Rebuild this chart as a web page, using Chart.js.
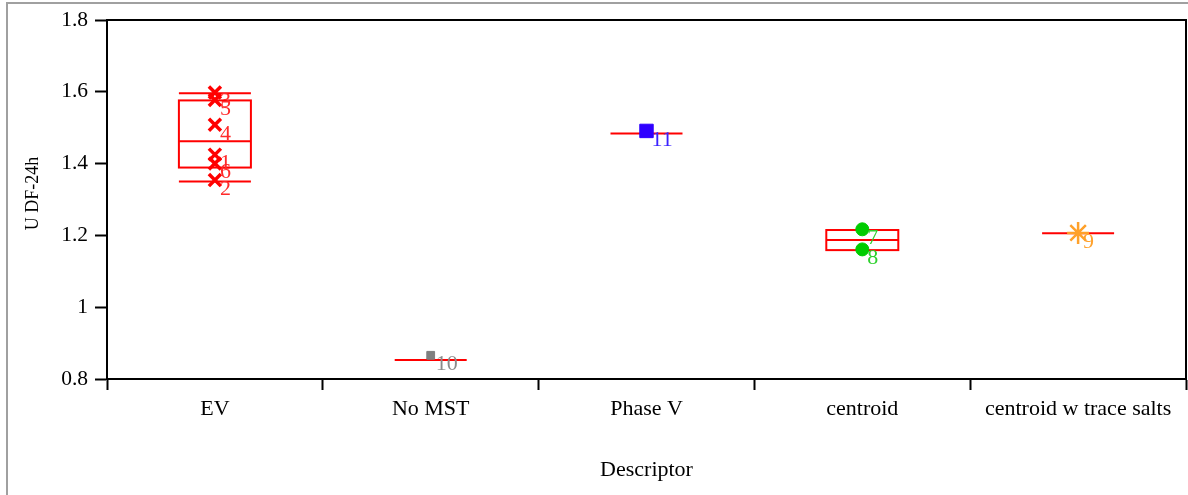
<!DOCTYPE html>
<html>
<head>
<meta charset="utf-8">
<script src="https://cdn.jsdelivr.net/npm/chart.js@4/dist/chart.umd.min.js"></script>
<style>
  html, body { margin: 0; padding: 0; background: #fff; }
  #wrap { width: 1188px; height: 495px; position: relative; }
</style>
</head>
<body>
<div id="wrap"><canvas id="myChart"></canvas></div>
<script>
// categories on the x axis
const categories = ['EV', 'No MST', 'Phase V', 'centroid', 'centroid w trace salts'];
const yTicks = [0.8, 1, 1.2, 1.4, 1.6, 1.8];

// individual runs (label, group, value)
const pointIds = ['1', '2', '3', '4', '5', '6', '7', '8', '9', '10', '11'];
const pointGroups = ['EV', 'EV', 'EV', 'EV', 'EV', 'EV', 'centroid', 'centroid', 'centroid w trace salts', 'No MST', 'Phase V'];
const pointValues = [1.425, 1.354, 1.598, 1.508, 1.577, 1.400, 1.217, 1.161, 1.207, 0.866, 1.491];

// box / quantile lines per category (null = not drawn)
const whiskerLow = [1.350, null, null, null, null];
const boxLow = [1.389, null, null, 1.159, null];
const medians = [1.462, 0.853, 1.484, 1.187, 1.206];
const boxHigh = [1.576, null, null, 1.215, null];
const whiskerHigh = [1.596, null, null, null, null];

const serif = '"Liberation Serif", "Times New Roman", serif';

// marker look per group
const groupStyle = {
    'EV': { style: 'crossRot', color: '#ff0000', label: '#ff2a2a', radius: 8.5, width: 3.5 },
    'No MST': { style: 'rect', color: '#7f7f7f', label: '#8a8a8a', radius: 5.5, width: 1 },
    'Phase V': { style: 'rect', color: '#2f00ff', label: '#3a22ff', radius: 9.5, width: 1 },
    'centroid': { style: 'circle', color: '#00cc00', label: '#2ed12e', radius: 6.5, width: 1 },
    'centroid w trace salts': { style: 'star', color: '#ffa12b', label: '#ffa12b', radius: 11, width: 2.5 }
};

document.addEventListener('DOMContentLoaded', () => {
    const ctx = document.getElementById('myChart').getContext('2d');

    const datasets = categories.map(cat => {
        const s = groupStyle[cat];
        const pts = [];
        pointValues.forEach((v, i) => {
            if (pointGroups[i] === cat) pts.push({ x: cat, y: v, id: pointIds[i] });
        });
        return {
            label: cat,
            data: pts,
            pointStyle: s.style,
            pointRadius: s.radius,
            pointHoverRadius: s.radius,
            borderColor: s.color,
            backgroundColor: s.color,
            borderWidth: s.width,
            labelColor: s.label
        };
    });

    // push the plot's right edge out to 2px from the canvas edge
    const stretchPlugin = {
        id: 'stretch',
        afterLayout(chart) {
            const a = chart.chartArea;
            const x = chart.scales.x;
            a.right = chart.width - 2;
            a.width = a.right - a.left;
            x.right = a.right;
            x.width = x.right - x.left;
            x.configure();
        }
    };

    // outer gray frame, top/right border of the plot and the y title
    const framePlugin = {
        id: 'frame',
        beforeDraw(chart) {
            const c = chart.ctx;
            c.save();
            c.strokeStyle = '#a0a0a0';
            c.lineWidth = 2;
            c.beginPath();
            c.moveTo(1188, 3);
            c.lineTo(7, 3);
            c.lineTo(7, 495);
            c.stroke();
            c.restore();
        },
        afterDraw(chart) {
            const a = chart.chartArea;
            const c = chart.ctx;
            c.save();
            c.strokeStyle = '#000';
            c.lineWidth = 2;
            c.beginPath();
            c.moveTo(a.left, a.top);
            c.lineTo(a.right, a.top);
            c.lineTo(a.right, a.bottom);
            c.stroke();
            // y axis title, a little above the middle like the original
            c.translate(33, (a.top + a.bottom) / 2 - 6);
            c.rotate(-Math.PI / 2);
            c.font = '18px ' + serif;
            c.fillStyle = '#000';
            c.textAlign = 'center';
            c.textBaseline = 'middle';
            c.fillText('U DF-24h', 0, 0);
            c.restore();
        }
    };

    // quantile boxes and mean lines drawn through the scales
    const boxPlugin = {
        id: 'boxes',
        beforeDatasetsDraw(chart) {
            const x = chart.scales.x, y = chart.scales.y;
            const c = chart.ctx;
            const half = 36;
            c.save();
            c.strokeStyle = '#ff0000';
            c.lineWidth = 2;
            categories.forEach((cat, i) => {
                const cx = x.getPixelForValue(i);
                const hline = v => {
                    if (v === null) return;
                    const py = y.getPixelForValue(v);
                    c.beginPath();
                    c.moveTo(cx - half, py);
                    c.lineTo(cx + half, py);
                    c.stroke();
                };
                if (boxLow[i] !== null && boxHigh[i] !== null) {
                    const top = y.getPixelForValue(boxHigh[i]);
                    const bot = y.getPixelForValue(boxLow[i]);
                    c.strokeRect(cx - half, top, half * 2, bot - top);
                }
                hline(medians[i]);
                hline(whiskerLow[i]);
                hline(whiskerHigh[i]);
            });
            c.restore();
        }
    };

    // run number next to each marker
    const labelPlugin = {
        id: 'pointLabels',
        afterDatasetsDraw(chart) {
            const c = chart.ctx;
            c.save();
            c.font = '22px ' + serif;
            c.textAlign = 'left';
            c.textBaseline = 'middle';
            chart.data.datasets.forEach((ds, di) => {
                const meta = chart.getDatasetMeta(di);
                meta.data.forEach((el, j) => {
                    c.fillStyle = ds.labelColor;
                    c.fillText(ds.data[j].id, el.x + 5, el.y + 9);
                });
            });
            c.restore();
        }
    };

    new Chart(ctx, {
        type: 'scatter',
        data: { labels: categories, datasets: datasets },
        plugins: [stretchPlugin, framePlugin, boxPlugin, labelPlugin],
        options: {
            responsive: true,
            maintainAspectRatio: false,
            animation: false,
            layout: { padding: { left: 0, right: 2, top: 20, bottom: 0 } },
            plugins: { legend: { display: false }, tooltip: { enabled: false } },
            scales: {
                x: {
                    type: 'category',
                    labels: categories,
                    offset: true,
                    afterFit: s => { s.height = 116; },
                    grid: { offset: true, drawOnChartArea: false, tickLength: 11, tickWidth: 2, tickColor: '#000' },
                    border: { color: '#000', width: 2 },
                    ticks: { color: '#000', font: { family: serif, size: 22 }, padding: 6, maxRotation: 0, autoSkip: false },
                    title: { display: true, text: 'Descriptor', color: '#000', font: { family: serif, size: 22 }, padding: { top: 0, bottom: 12 } }
                },
                y: {
                    min: 0.8,
                    max: 1.8,
                    afterFit: s => { s.width = 107; },
                    afterBuildTicks: s => { s.ticks = yTicks.map(v => ({ value: v })); },
                    grid: { drawOnChartArea: false, tickLength: 12, tickWidth: 2, tickColor: '#000' },
                    border: { color: '#000', width: 2 },
                    ticks: { color: '#000', font: { family: serif, size: 21.5 }, padding: 7, callback: v => String(Number(v.toFixed(1))) },
                    title: { display: false }
                }
            }
        }
    });
});
</script>
</body>
</html>
